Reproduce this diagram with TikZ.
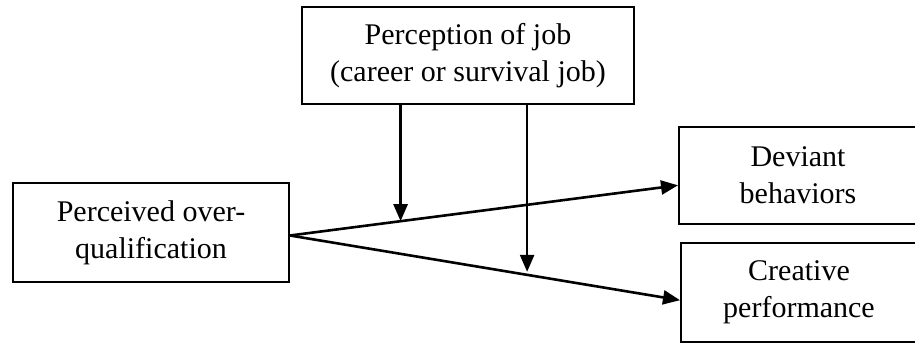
\documentclass[tikz,border=0pt]{standalone}
\usepackage{fontspec}
\setmainfont{Liberation Serif}
\usetikzlibrary{arrows.meta,calc}
\begin{document}
\begin{tikzpicture}[x=1pt,y=1pt,
  box/.style={draw,line width=2pt,inner sep=0pt,align=center,
    font=\fontsize{30}{37}\selectfont},
  conn/.style={line width=2.6pt,-{Triangle[length=17pt,width=14pt]}}]
\useasboundingbox (0,0) rectangle (915,343);
\node[box,minimum width=332pt,minimum height=97pt] (T) at (468,287.5) {Perception of job\\(career or survival job)};
\node[box,minimum width=276pt,minimum height=99pt] (L) at (151,110.5) {Perceived over-\\qualification};
\node[box,minimum width=238pt,minimum height=96.5pt] (D) at (798,167.7) {Deviant\\behaviors};
\node[box,minimum width=236pt,minimum height=99pt] (C) at (799,50.8) {Creative\\performance};
\coordinate (o) at ([yshift=-3pt]L.east);
\coordinate (dt) at ([yshift=-10pt]D.west);
\coordinate (ct) at ([yshift=-8pt]C.west);
\draw[conn] (o) -- (dt);
\draw[conn] (o) -- (ct);
\coordinate (m1) at ($(o)!0.285!(dt)$);
\coordinate (m2) at ($(o)!0.608!(ct)+(0,3pt)$);
\draw[conn] (T.south -| m1) -- (m1);
\draw[conn] (T.south -| m2) -- (m2);
\end{tikzpicture}
\end{document}
